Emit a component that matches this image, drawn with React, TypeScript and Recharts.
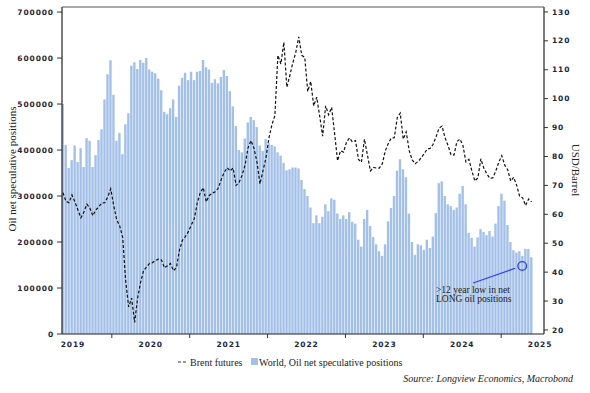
import { Bar, ComposedChart, Line, ReferenceDot, ReferenceLine, XAxis, YAxis } from "recharts";

// bi-weekly observations starting at this date
const startDate = "2019-05-17";
const stepDays = 14;

// World, oil net speculative positions (thousands of contracts)
const positions = [
  500, 411, 361, 378, 410, 374, 404, 363, 426, 420,
  363, 389, 422, 445, 510, 565, 595, 520, 420, 437,
  391, 456, 480, 583, 591, 576, 596, 590, 600, 575,
  570, 567, 555, 530, 483, 478, 491, 510, 472, 540,
  557, 568, 552, 570, 552, 570, 572, 596, 580, 575,
  546, 554, 545, 559, 574, 561, 528, 495, 452, 400,
  395, 425, 460, 472, 465, 450, 410, 398, 424, 415,
  411, 408, 395, 388, 372, 356, 358, 362, 362, 360,
  335, 315, 300, 275, 241, 258, 241, 255, 282, 267,
  295, 292, 262, 250, 258, 250, 265, 244, 240, 205,
  190, 250, 270, 235, 211, 195, 180, 170, 195, 245,
  274, 300, 355, 380, 358, 341, 262, 200, 172, 195,
  193, 183, 205, 187, 212, 263, 328, 332, 300, 282,
  278, 270, 275, 305, 322, 282, 220, 209, 190, 210,
  228, 222, 215, 224, 212, 240, 278, 305, 290, 237,
  200, 182, 177, 180, 170, 185, 185, 167,
];

// Brent futures, USD/barrel
const brent = [
  67.5, 64.5, 64, 66.7, 64.3, 61.5, 58.8, 60.8, 63.5, 62.2,
  59.5, 61.5, 62.6, 63.9, 64, 66, 68.8, 63, 58.1, 56,
  52, 37, 28, 31, 22.6, 31, 36.5, 40.5, 41.8, 43,
  43.3, 44, 44.5, 44.2, 41.5, 42.2, 43, 40.5, 41.5, 47.5,
  51, 52.3, 54, 56.3, 58.5, 64, 67.5, 69.2, 64.3, 66.5,
  67.3, 67.8, 69, 72, 74.5, 76.1, 75, 76, 70, 71,
  73.5, 77, 83, 85.5, 82.8, 78, 70.5, 75, 79.5, 86.4,
  91, 94.2, 115, 112, 119.5, 104, 108, 112.4, 116, 121.4,
  115, 114.3, 102.5, 106, 97.5, 100.5, 94, 87, 97.5, 94.4,
  97, 88, 78.5, 82, 81.5, 85, 86.4, 85, 85.5, 79,
  78, 86, 80.5, 75, 76.2, 76, 76, 77.5, 82, 84.5,
  86.4, 86.5, 93.5, 95, 86, 88.5, 82, 78.8, 77.5, 78.3,
  79.5, 81, 82.5, 82.8, 84.2, 86.8, 89.8, 90.5, 86.5, 83.8,
  80.6, 80.5, 85.2, 86, 83.8, 78.1, 79, 75, 71.5, 72.6,
  79.2, 76, 74, 72.5, 72.6, 75, 78, 80.3, 77, 75.4,
  71.5, 72.8, 70, 66.2, 65.7, 63, 65.3, 64.3,
];

const leftTicks = [0, 100, 200, 300, 400, 500, 600, 700];
const rightTicks = [20, 30, 40, 50, 60, 70, 80, 90, 100, 110, 120, 130];
const years = [2019, 2020, 2021, 2022, 2023, 2024, 2025];

const X_MIN = 2019.36;
const X_MAX = 2025.55;
const PLOT_LEFT = 62;
const PLOT_W = 482;
const halfYear = (0.5 * PLOT_W) / (X_MAX - X_MIN);

const MS_PER_YEAR = 365.2425 * 864e5;
const toYear = (ms: number) => 1970 + ms / MS_PER_YEAR;
const start = Date.parse(startDate);

const data = positions.map((p, i) => ({
  t: toYear(start + i * stepDays * 864e5),
  positions: p,
  brent: brent[i],
}));

const tickFont = {
  fontSize: 7.5,
  fontFamily: "DejaVu Sans",
  fontWeight: 700,
  fill: "#1e2440",
  letterSpacing: 0.9,
};

const serif = "'Liberation Serif', 'Times New Roman', serif";
const barBlue = "#a3c0e8";
const markBlue = "#2f3df2";

function YearTick({ x, y, payload }: any) {
  const edge = x + halfYear;
  return (
    <g>
      {edge < PLOT_LEFT + PLOT_W - 2 && (
        <line x1={edge} x2={edge} y1={y} y2={y + 4} stroke="#333" />
      )}
      <text x={x} y={y + 13} textAnchor="middle" {...tickFont}>
        {Math.floor(payload.value)}
      </text>
    </g>
  );
}

export default function App() {
  return (
    <div style={{ position: "absolute", left: 0, top: 0, width: 590, height: 393, background: "#fff" }}>
      <ComposedChart
        width={590}
        height={393}
        data={data}
        margin={{ top: 7, right: 0, bottom: 43, left: 0 }}
      >
        <XAxis
          dataKey="t"
          type="number"
          domain={[X_MIN, X_MAX]}
          allowDataOverflow
          ticks={years.map((y) => y + 0.5)}
          tick={<YearTick />}
          tickLine={false}
          tickSize={0}
          tickMargin={0}
          height={16}
          axisLine={{ stroke: "#222", strokeWidth: 1.2 }}
        />
        <YAxis
          yAxisId="left"
          width={62}
          domain={[0, 711]}
          allowDataOverflow
          ticks={leftTicks}
          interval={0}
          tickFormatter={(v) => String(v * 1000)}
          tick={tickFont}
          tickSize={5}
          tickMargin={3}
          tickLine={{ stroke: "#333" }}
          axisLine={{ stroke: "#222", strokeWidth: 1.2 }}
        />
        <YAxis
          yAxisId="right"
          orientation="right"
          width={46}
          domain={[18.6, 131.7]}
          allowDataOverflow
          ticks={rightTicks}
          interval={0}
          tick={{ ...tickFont, textAnchor: "start" }}
          tickSize={4}
          tickMargin={4}
          tickLine={{ stroke: "#333" }}
          axisLine={{ stroke: "#222", strokeWidth: 1.2 }}
        />
        <Bar
          yAxisId="left"
          dataKey="positions"
          fill={barBlue}
          barSize={2.4}
          isAnimationActive={false}
        />
        <Line
          yAxisId="right"
          dataKey="brent"
          type="linear"
          stroke="#111"
          strokeWidth={1.2}
          strokeDasharray="3 2"
          dot={false}
          isAnimationActive={false}
        />
        <ReferenceLine
          yAxisId="left"
          segment={[
            { x: 2024.64, y: 111 },
            { x: 2025.18, y: 143 },
          ]}
          stroke={markBlue}
          strokeWidth={1.2}
        />
        <ReferenceDot
          yAxisId="left"
          x={2025.27}
          y={148}
          r={4.3}
          fill="none"
          stroke={markBlue}
          strokeWidth={1.3}
        />
      </ComposedChart>

      <svg
        width={590}
        height={393}
        style={{ position: "absolute", left: 0, top: 0, pointerEvents: "none" }}
      >
        {/* frame line along the top of the plot */}
        <line x1={PLOT_LEFT} x2={PLOT_LEFT + PLOT_W} y1={7} y2={7} stroke="#555" strokeWidth={1.2} />

        <text
          transform="rotate(-90 13 169)"
          x={13}
          y={169}
          textAnchor="middle"
          dominantBaseline="middle"
          fontFamily={serif}
          fontSize={11}
          fill="#222"
        >
          Oil net speculative positions
        </text>
        <text
          transform="rotate(90 575 170)"
          x={575}
          y={170}
          textAnchor="middle"
          dominantBaseline="middle"
          fontFamily={serif}
          fontSize={11}
          fill="#222"
        >
          USD/Barrel
        </text>

        <text x={436} y={293} fontFamily={serif} fontSize={9.5} fill="#222">
          {">12 year low in net"}
        </text>
        <text x={436} y={302} fontFamily={serif} fontSize={9.5} fill="#222">
          LONG oil positions
        </text>

        <line x1={178} x2={187} y1={362} y2={362} stroke="#333" strokeWidth={1.2} strokeDasharray="3 2" />
        <text x={190} y={365.5} fontFamily={serif} fontSize={10} fill="#222">
          Brent futures
        </text>
        <rect x={251} y={358} width={7} height={7} fill={barBlue} />
        <text x={259} y={365.5} fontFamily={serif} fontSize={10} fill="#222">
          World, Oil net speculative positions
        </text>

        <text
          x={573}
          y={382}
          textAnchor="end"
          fontFamily={serif}
          fontStyle="italic"
          fontSize={10}
          fill="#222"
        >
          Source: Longview Economics, Macrobond
        </text>
      </svg>
    </div>
  );
}
